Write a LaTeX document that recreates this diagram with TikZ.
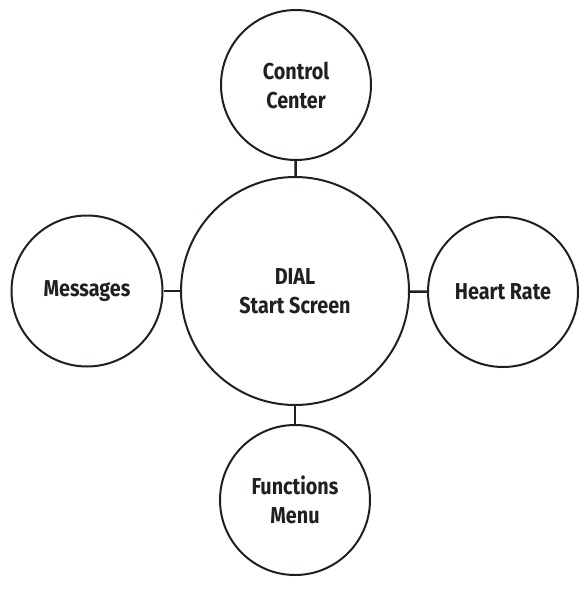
\documentclass[tikz,border=0pt]{standalone}
\usepackage{fontspec}
\setmainfont{Fira Sans}[FakeStretch=0.86]
\definecolor{ink}{HTML}{231F20}
\begin{document}
\begin{tikzpicture}[x=1pt,y=-1pt,
  bubble/.style={circle,draw=ink,line width=2pt,inner sep=0pt,minimum size=#1,align=center,text=ink,font=\bfseries\fontsize{23}{29}\selectfont},
  link/.style={draw=ink,line width=2.4pt}]
\useasboundingbox (0,0) rectangle (583,591);
\node[bubble=228pt] (dial) at (295,291) {DIAL\\Start Screen};
\node[bubble=150pt] (cc) at (296,85) {Control\\Center};
\node[bubble=151pt] (msg) at (87,291) {Messages};
\node[bubble=150pt] (hr) at (503,292) {Heart Rate};
\node[bubble=150pt] (fm) at (295,500) {Functions\\Menu};
\draw[link] (cc) -- (dial);
\draw[link] (msg) -- (dial);
\draw[link] (hr) -- (dial);
\draw[link] (fm) -- (dial);
\end{tikzpicture}
\end{document}
